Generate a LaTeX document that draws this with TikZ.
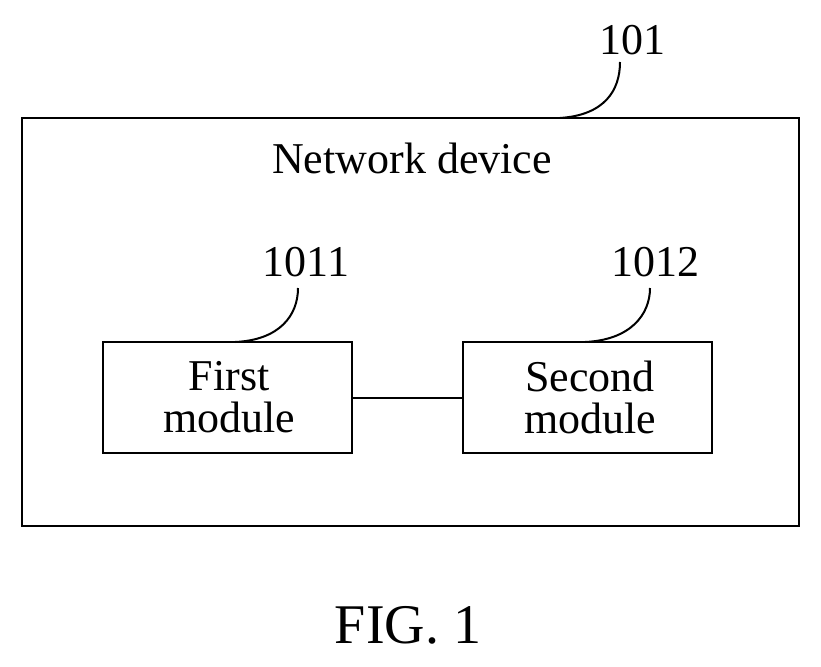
\documentclass[tikz,border=0pt]{standalone}
\usepackage{fontspec}
\setmainfont{Liberation Serif}
\begin{document}
\begin{tikzpicture}[x=1pt,y=-1pt,
  box/.style={draw,line width=2pt,inner sep=0pt},
  txt/.style={font=\fontsize{44}{42}\selectfont,align=center,inner sep=0pt},
  lead/.style={line width=2pt}]
\useasboundingbox (0,0) rectangle (821,666);
\node[box,minimum width=777pt,minimum height=408pt] (dev) at (410.5,322) {};
\node[txt] (devt) at (412,158) {Network device};
\node[box,minimum width=249pt,minimum height=111pt] (m1) at (227.5,397.5) {};
\node[box,minimum width=249pt,minimum height=111pt] (m2) at (587.5,397.5) {};
\node[txt] (m1t) at (229,397) {First\\module};
\node[txt] (m2t) at (590,397) {Second\\module};
\draw[lead] (m1.east) -- (m2.west);
\node[txt] (l101) at (632,40) {101};
\node[txt] (l1011) at (306,262) {1011};
\node[txt] (l1012) at (655,262) {1012};
\coordinate (a1) at (560,118);
\coordinate (a2) at (235,342);
\coordinate (a3) at (585,342);
\draw[lead] (a1) .. controls (605,115) and (620,90) .. (620,62);
\draw[lead] (a2) .. controls (280,340) and (298,315) .. (298,288);
\draw[lead] (a3) .. controls (630,340) and (650,315) .. (650,288);
\node[txt,font=\fontsize{56}{56}\selectfont] (fig) at (408,625) {FIG. 1};
\end{tikzpicture}
\end{document}
